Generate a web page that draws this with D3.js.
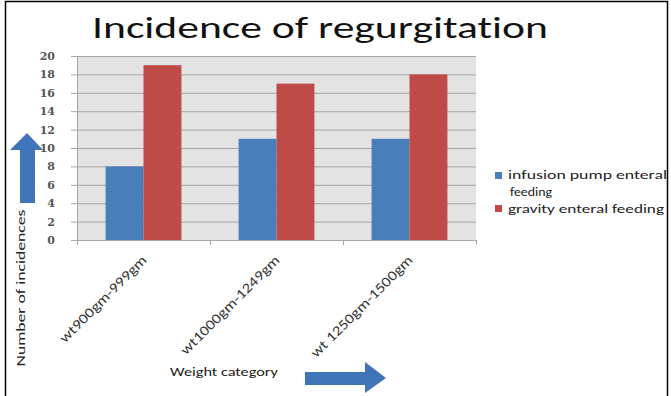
<!DOCTYPE html>
<html>
<head>
<meta charset="utf-8">
<script src="https://cdn.jsdelivr.net/npm/d3@7"></script>
<style>
  html, body { margin: 0; padding: 0; background: #fff; }
  svg { display: block; }
  text { font-variant-ligatures: none; }
</style>
</head>
<body>
<svg id="chart" width="671" height="396"></svg>
<script>
// Weight categories and incidence counts per feeding method
const categories = ["wt900gm-999gm", "wt1000gm-1249gm", "wt 1250gm-1500gm"];
const seriesNames = ["infusion pump enteral feeding", "gravity enteral feeding"];
const pumpValues = [8, 11, 11];
const gravityValues = [19, 17, 18];
const yTicks = [0, 2, 4, 6, 8, 10, 12, 14, 16, 18, 20];
const colors = ["#4a7ebb", "#be4b48"];

const svg = d3.select("#chart");
const FONT = "Carlito, Calibri, 'Liberation Sans', sans-serif";

const plot = { left: 77, right: 476, top: 56, bottom: 240 };

// stretch a text element's glyphs by a factor along its baseline
function widen(sel, factor) {
  sel.each(function () {
    const len = this.getComputedTextLength();
    d3.select(this).attr("textLength", len * factor).attr("lengthAdjust", "spacingAndGlyphs");
  });
  return sel;
}

// frame around the whole figure
svg.append("rect")
  .attr("x", 5.5).attr("y", 1.5)
  .attr("width", 662).attr("height", 400)
  .attr("fill", "none").attr("stroke", "#000").attr("stroke-width", 1.5);

const x0 = d3.scaleBand()
  .domain(categories)
  .range([plot.left, plot.right])
  .paddingInner(0.43)
  .paddingOuter(0.215);

const x1 = d3.scaleBand()
  .domain(seriesNames)
  .range([0, x0.bandwidth()]);

const y = d3.scaleLinear().domain([0, 20]).range([plot.bottom, plot.top]);

// plot background
svg.append("rect")
  .attr("x", plot.left).attr("y", plot.top)
  .attr("width", plot.right - plot.left).attr("height", plot.bottom - plot.top)
  .attr("fill", "#e3e3e3");

// horizontal gridlines
svg.append("g")
  .selectAll("line")
  .data(yTicks.filter(d => d > 0))
  .join("line")
  .attr("x1", plot.left).attr("x2", plot.right)
  .attr("y1", d => y(d) + 0.5).attr("y2", d => y(d) + 0.5)
  .attr("stroke", "#a6a6a6").attr("stroke-width", 1);

// bars
const rows = categories.map((c, i) => ({ cat: c, vals: [pumpValues[i], gravityValues[i]] }));
svg.append("g")
  .selectAll("g")
  .data(rows)
  .join("g")
  .attr("transform", d => `translate(${x0(d.cat)},0)`)
  .selectAll("rect")
  .data(d => d.vals.map((v, j) => ({ name: seriesNames[j], v, j })))
  .join("rect")
  .attr("x", d => x1(d.name))
  .attr("y", d => y(d.v))
  .attr("width", x1.bandwidth())
  .attr("height", d => y(0) - y(d.v))
  .attr("fill", d => colors[d.j]);

// y axis
const yAxis = svg.append("g")
  .attr("transform", `translate(${plot.left},0)`)
  .call(d3.axisLeft(y).tickValues(yTicks).tickSize(6).tickPadding(16));
yAxis.select(".domain").attr("stroke", "#a6a6a6");
yAxis.selectAll(".tick line").attr("stroke", "#a6a6a6");
yAxis.selectAll("text")
  .attr("font-family", "'DejaVu Serif', serif")
  .attr("font-size", 11)
  .attr("font-weight", "bold")
  .attr("fill", "#555");

// x axis baseline with category separators
const xAxis = svg.append("g").attr("transform", `translate(0,${plot.bottom})`);
xAxis.append("line")
  .attr("x1", plot.left).attr("x2", plot.right)
  .attr("y1", 0.5).attr("y2", 0.5)
  .attr("stroke", "#a6a6a6");
const step = x0.step();
const bounds = d3.range(categories.length + 1).map(i => x0(categories[0]) - x0.paddingOuter() * step + i * step);
xAxis.selectAll("line.sep")
  .data(bounds)
  .join("line")
  .attr("class", "sep")
  .attr("x1", d => d + 0.5).attr("x2", d => d + 0.5)
  .attr("y1", 0).attr("y2", 5)
  .attr("stroke", "#a6a6a6");

// rotated category labels
widen(xAxis.selectAll("text")
  .data(categories)
  .join("text")
  .attr("transform", d => `translate(${x0(d) + x0.bandwidth() / 2 + 4},${21}) rotate(-45)`)
  .attr("text-anchor", "end")
  .attr("font-family", FONT)
  .attr("font-size", 14)
  .attr("fill", "#333")
  .text(d => d), 1.2);

// title
svg.append("text")
  .attr("x", 92).attr("y", 38)
  .attr("font-family", FONT)
  .attr("font-size", 31)
  .attr("fill", "#111")
  .attr("textLength", 456).attr("lengthAdjust", "spacingAndGlyphs")
  .text("Incidence of regurgitation");

// legend
const legend = svg.append("g").attr("font-family", FONT)
  .attr("font-size", 13).attr("fill", "#222");
legend.append("rect").attr("x", 495).attr("y", 172).attr("width", 7).attr("height", 7).attr("fill", colors[0]);
legend.append("text").attr("x", 508).attr("y", 179).attr("textLength", 159).attr("lengthAdjust", "spacingAndGlyphs").text("infusion pump enteral");
legend.append("text").attr("x", 510).attr("y", 196).attr("textLength", 42).attr("lengthAdjust", "spacingAndGlyphs").text("feeding");
legend.append("rect").attr("x", 495).attr("y", 205).attr("width", 7).attr("height", 7).attr("fill", colors[1]);
legend.append("text").attr("x", 508).attr("y", 213).attr("textLength", 156).attr("lengthAdjust", "spacingAndGlyphs").text("gravity enteral feeding");

// axis titles
svg.append("text")
  .attr("transform", "translate(25,288) rotate(-90)")
  .attr("text-anchor", "middle")
  .attr("font-family", FONT)
  .attr("font-size", 13).attr("fill", "#222")
  .attr("textLength", 157).attr("lengthAdjust", "spacingAndGlyphs")
  .text("Number of incidences");
svg.append("text")
  .attr("x", 170).attr("y", 376)
  .attr("font-family", FONT)
  .attr("font-size", 13).attr("fill", "#222")
  .attr("textLength", 108).attr("lengthAdjust", "spacingAndGlyphs")
  .text("Weight category");

// direction arrows
const arrowBlue = "#3f74b8";
svg.append("path")
  .attr("d", d3.line()([[20, 203], [20, 150], [10, 150], [27, 133], [43, 150], [35, 150], [35, 203]]) + "Z")
  .attr("fill", arrowBlue);
svg.append("path")
  .attr("d", d3.line()([[305, 372], [365, 372], [365, 362], [386, 378], [365, 393], [365, 385], [305, 385]]) + "Z")
  .attr("fill", arrowBlue);
</script>
</body>
</html>
